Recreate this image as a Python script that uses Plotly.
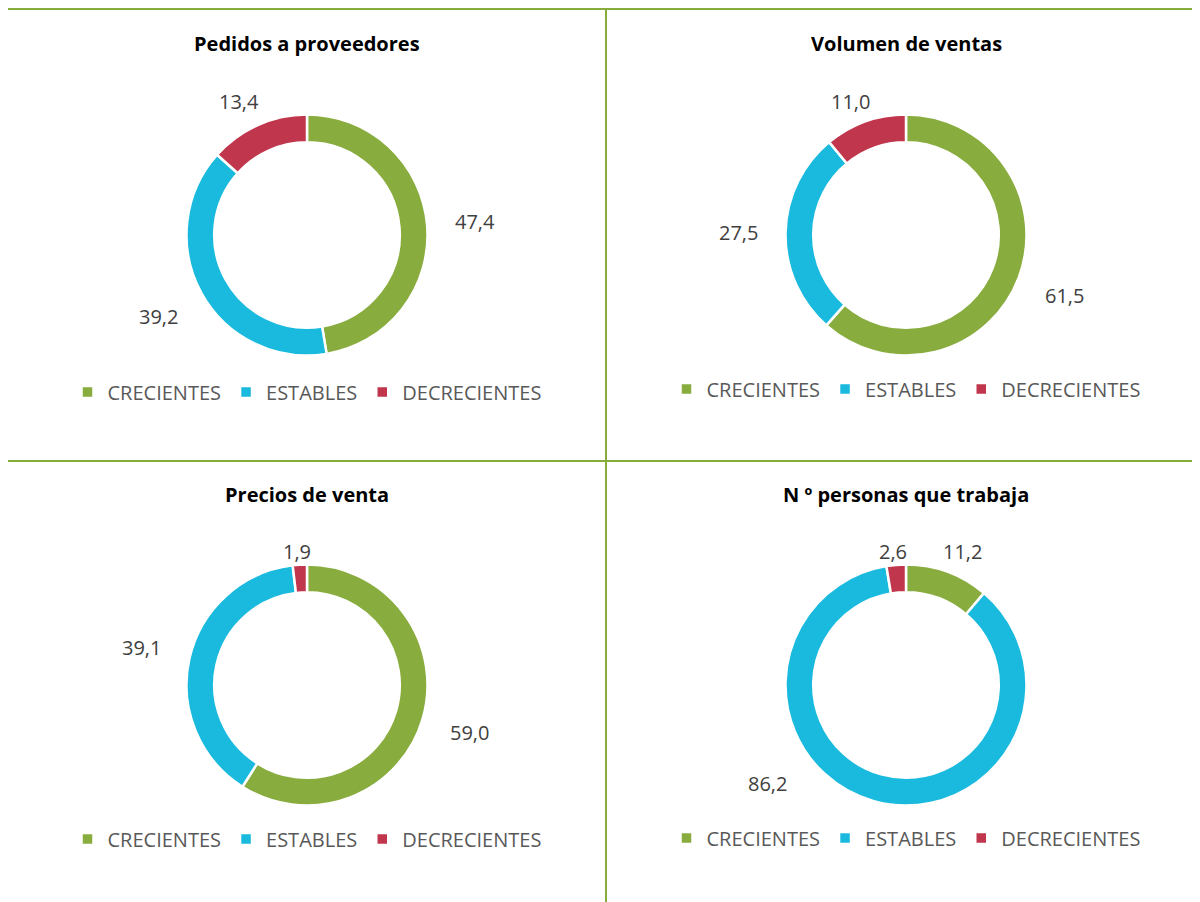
import math
import plotly.graph_objects as go

# ---------------- data ----------------
categories = ["CRECIENTES", "ESTABLES", "DECRECIENTES"]
titles = ["Pedidos a proveedores", "Volumen de ventas",
          "Precios de venta", "N º personas que trabaja"]
pedidos = [47.4, 39.2, 13.4]
volumen = [61.5, 27.5, 11.0]
precios = [59.0, 39.1, 1.9]
personas = [11.2, 86.2, 2.6]
series = [pedidos, volumen, precios, personas]

# ---------------- style / layout ----------------
colors = ["#88AC3E", "#1ABADF", "#C0364C"]
W, H = 1200, 902
OFF = 8  # page body margin
FONT = "Open Sans"
centers = [(307, 235), (906, 235), (307, 685), (906, 685)]
title_y = [43, 43, 494, 494]
legend_y = [392, 389, 839, 838]
R = 120.5
HOLE = 0.77


def px(x):
    return (x - OFF) / W


def py(y):
    return 1 - (y - OFF) / H


def fmt(v):
    return f"{v:.1f}".replace(".", ",")


fig = go.Figure()
annotations = []

for i, (vals, title) in enumerate(zip(series, titles)):
    cx, cy = centers[i]
    leg = "legend" if i == 0 else f"legend{i + 1}"
    # invisible suffix keeps each chart's legend entries distinct
    labels = [c + "\u200b" * i for c in categories]
    fig.add_trace(go.Pie(
        labels=labels, values=vals, sort=False, direction="clockwise",
        rotation=0, hole=HOLE, textinfo="none", hoverinfo="label+value",
        marker=dict(colors=colors, line=dict(color="white", width=2.5)),
        domain=dict(x=[px(cx - R), px(cx + R)], y=[py(cy + R), py(cy - R)]),
        legend=leg, showlegend=True,
    ))
    # title
    annotations.append(dict(
        text=f"<b>{title}</b>", x=px(cx), y=py(title_y[i]), xref="paper", yref="paper",
        xanchor="center", yanchor="middle", showarrow=False,
        font=dict(family=FONT, size=20, color="#000000")))
    # value labels, placed outside the ring at each slice's mid angle
    total = sum(vals)
    cum = 0.0
    hw, hh, gap = 19.0, 10.0, 28.0
    for v in vals:
        theta = math.radians((cum + v / 2) / total * 360.0)
        cum += v
        ux, uy = math.sin(theta), -math.cos(theta)
        r = R + gap + abs(ux) * hw + abs(uy) * hh
        dx, dy = ux * r, uy * r
        dy = max(-134.0, min(98.0, dy))
        ex, ey = max(abs(dx) - hw, 0), max(abs(dy) - hh, 0)
        if math.hypot(ex, ey) < R + 2:
            need = R + gap
            ex_new = math.sqrt(max(need ** 2 - ey ** 2, 0))
            dx = math.copysign(ex_new + hw, ux)
        annotations.append(dict(
            text=fmt(v), x=px(cx + dx), y=py(cy + dy), xref="paper", yref="paper",
            xanchor="center", yanchor="middle", showarrow=False,
            font=dict(family=FONT, size=20, color="#404040")))

legend_common = dict(orientation="h", xanchor="center", yanchor="middle",
                     font=dict(family=FONT, size=20, color="#595959"),
                     bgcolor="rgba(0,0,0,0)", itemclick=False, itemdoubleclick=False)
legends = {}
for i in range(4):
    cx, _ = centers[i]
    key = "legend" if i == 0 else f"legend{i + 1}"
    legends[key] = dict(legend_common, x=px(cx), y=py(legend_y[i]))

line_color = "#86AC3C"
shapes = [
    dict(type="line", xref="paper", yref="paper", x0=px(7), x1=1, y0=py(9), y1=py(9),
         line=dict(color=line_color, width=2)),
    dict(type="line", xref="paper", yref="paper", x0=px(7), x1=1, y0=py(461), y1=py(461),
         line=dict(color=line_color, width=2)),
    dict(type="line", xref="paper", yref="paper", x0=px(606), x1=px(606), y0=py(9), y1=0,
         line=dict(color=line_color, width=2)),
]

fig.update_layout(
    width=W, height=H, margin=dict(l=0, r=0, t=0, b=0),
    paper_bgcolor="white", plot_bgcolor="white",
    annotations=annotations, shapes=shapes,
    font=dict(family=FONT),
    **legends,
)

fig.write_html("out.html")
